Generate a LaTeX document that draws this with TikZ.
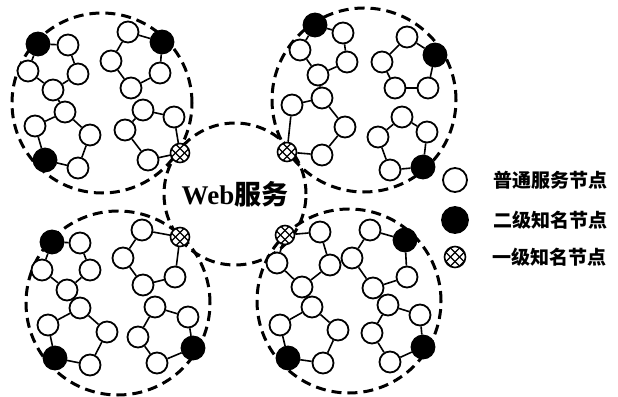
\documentclass[tikz,border=0pt]{standalone}
\usepackage{fontspec}
\setmainfont{Liberation Serif}
\newfontfamily\cjk{Noto Sans CJK SC}
\usetikzlibrary{positioning}

\tikzset{
  peer/.style={circle, draw, fill=white, line width=1.8pt, minimum size=21pt, inner sep=0pt},
  wnode/.style={peer},
  bnode/.style={peer, fill=black, minimum size=23pt},
  hnode/.style={peer, minimum size=19pt, line width=1.6pt,
    path picture={
      \begin{scope}[shift={(path picture bounding box.center)}]
        \foreach \k in {-13.5,-4.5,4.5,13.5} {
          \draw[line width=1.2pt] (\k pt-12pt,-12pt) -- (\k pt+12pt,12pt);
          \draw[line width=1.2pt] (\k pt-12pt,12pt) -- (\k pt+12pt,-12pt);
        }
      \end{scope}}},
  link/.style={line width=1.6pt},
  zone/.style={circle, draw, line width=3pt, dash pattern=on 10pt off 6pt,
    minimum size=#1, inner sep=0pt},
  legtext/.style={font=\cjk\bfseries\fontsize{19}{19}\selectfont, inner sep=0pt}
}

\begin{document}
\begin{tikzpicture}[x=1pt,y=-1pt]
  \useasboundingbox (0,0) rectangle (618,396);

  % dashed zones
  \node[zone=180pt] (ztl) at (102,103) {};
  \node[zone=184pt] (ztr) at (364,100) {};
  \node[zone=184pt] (zbl) at (118,303) {};
  \node[zone=184pt] (zbr) at (349,301) {};
  \node[zone=142pt, font=\bfseries\fontsize{27}{27}\selectfont] (web) at (235,194)
    {Web{\cjk 服务}};

  % top left
  \foreach \n/\x/\y/\s in {1/38/44/bnode, 2/68/45/wnode, 3/28/71/wnode, 4/78/74/wnode,
      5/53/90/wnode, 6/65/112/wnode, 7/35/126/wnode, 8/90/135/wnode, 9/45/160/bnode, 10/78/168/wnode}
    \node[\s] (a\n) at (\x,\y) {};
  \foreach \n/\x/\y/\s in {1/128/32/wnode, 2/162/42/bnode, 3/111/61/wnode, 4/160/73/wnode,
      5/131/88/wnode, 6/143/110/wnode, 7/125/130/wnode, 8/174/117/wnode, 9/148/160/wnode, 10/180/153/hnode}
    \node[\s] (b\n) at (\x,\y) {};

  % top right
  \foreach \n/\x/\y/\s in {1/315/25/bnode, 2/343/33/wnode, 3/300/50/wnode, 4/347/62/wnode,
      5/318/75/wnode, 6/322/98/wnode, 7/292/105/wnode, 8/345/127/wnode, 9/287/152/hnode, 10/322/155/wnode}
    \node[\s] (c\n) at (\x,\y) {};
  \foreach \n/\x/\y/\s in {1/407/37/wnode, 2/435/55/bnode, 3/382/62/wnode, 4/428/88/wnode,
      5/395/88/wnode, 6/402/117/wnode, 7/378/137/wnode, 8/427/132/wnode, 9/390/170/wnode, 10/423/167/bnode}
    \node[\s] (d\n) at (\x,\y) {};

  % bottom left
  \foreach \n/\x/\y/\s in {1/52/242/bnode, 2/80/243/wnode, 3/42/270/wnode, 4/90/270/wnode,
      5/67/290/wnode, 6/80/308/wnode, 7/48/325/wnode, 8/107/332/wnode, 9/55/358/bnode, 10/90/365/wnode}
    \node[\s] (e\n) at (\x,\y) {};
  \foreach \n/\x/\y/\s in {1/142/230/wnode, 2/180/237/hnode, 3/123/258/wnode, 4/175/277/wnode,
      5/143/285/wnode, 6/155/307/wnode, 7/138/337/wnode, 8/188/317/wnode, 9/157/363/wnode, 10/193/348/bnode}
    \node[\s] (f\n) at (\x,\y) {};

  % bottom right
  \foreach \n/\x/\y/\s in {1/285/235/hnode, 2/320/232/wnode, 3/277/263/wnode, 4/330/265/wnode,
      5/302/287/wnode, 6/312/307/wnode, 7/280/325/wnode, 8/338/330/wnode, 9/288/358/bnode, 10/323/363/wnode}
    \node[\s] (g\n) at (\x,\y) {};
  \foreach \n/\x/\y/\s in {1/370/230/wnode, 2/405/240/bnode, 3/352/258/wnode, 4/407/277/wnode,
      5/373/288/wnode, 6/388/305/wnode, 7/372/333/wnode, 8/420/315/wnode, 9/390/362/wnode, 10/423/347/bnode}
    \node[\s] (h\n) at (\x,\y) {};

  % links inside each cluster
  \foreach \p in {a,b,c,d,e,f,g,h}
    \foreach \u/\v in {1/2,1/3,2/4,3/5,4/5,6/7,6/8,7/9,9/10,8/10}
      \draw[link] (\p\u) -- (\p\v);
  \foreach \p in {a,c,e,g}
    \draw[link] (\p5) -- (\p6);

  % legend
  \node[wnode, minimum size=24pt] (legw) at (455,180) {};
  \node[bnode, minimum size=26pt] (legb) at (455,220) {};
  \node[hnode, minimum size=21pt] (legh) at (455,257) {};
  \node[legtext, right=25pt of legw] (legwt) {普通服务节点};
  \node[legtext, right=24pt of legb] (legbt) {二级知名节点};
  \node[legtext, right=26pt of legh] (leght) {一级知名节点};
\end{tikzpicture}
\end{document}
